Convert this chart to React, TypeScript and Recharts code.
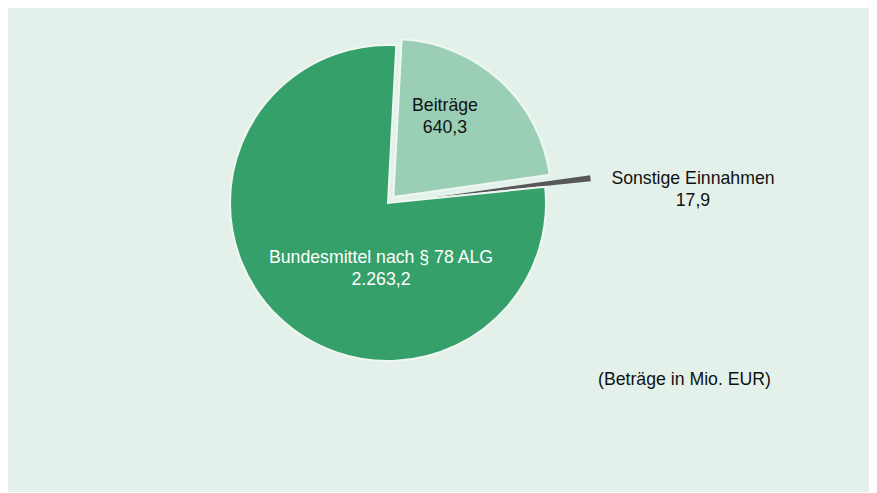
import React from "react";
import { Cell, Pie, PieChart } from "recharts";

const categories = ["Beiträge", "Sonstige Einnahmen", "Bundesmittel nach § 78 ALG"];
const values = [640.3, 17.9, 2263.2];
const valueLabels = ["640,3", "17,9", "2.263,2"];
const note = "(Beträge in Mio. EUR)";

const colors = ["#9acfb5", "#58575a", "#35a06a"];
const textColors = ["#111111", "#111111", "#ffffff"];
const explode = [8, 46, 0];
// label offsets from the pie centre (first line baseline)
const labelOffsets = [
  [57, -92],
  [305, -19],
  [-7, 60],
];

const WIDTH = 869;
const HEIGHT = 484;
const CX = 380;
const CY = 195;
const RADIUS = 158;
const START = 87;
const FONT = "'Liberation Sans', Arial, sans-serif";

const data = categories.map((name, i) => ({ name, value: values[i] }));
const total = values.reduce((a, b) => a + b, 0);

function midAngle(k: number) {
  const before = values.slice(0, k).reduce((a, b) => a + b, 0);
  return START - (360 * (before + values[k] / 2)) / total;
}

function renderLabel(props: any) {
  const { index, cx, cy } = props;
  const [dx, dy] = labelOffsets[index];
  const x = cx + dx;
  const y = cy + dy;
  return (
    <text
      key={`lbl-${index}`}
      x={x}
      y={y}
      textAnchor="middle"
      fill={textColors[index]}
      fontFamily={FONT}
      fontSize={17.7}
    >
      <tspan x={x} y={y}>
        {categories[index]}
      </tspan>
      <tspan x={x} y={y + 21.5}>
        {valueLabels[index]}
      </tspan>
    </text>
  );
}

function slicePie(k: number, withLabels: boolean) {
  const rad = (midAngle(k) * Math.PI) / 180;
  const cx = CX + explode[k] * Math.cos(rad);
  const cy = CY - explode[k] * Math.sin(rad);
  return (
    <Pie
      key={`pie-${k}`}
      data={data}
      dataKey="value"
      nameKey="name"
      cx={cx}
      cy={cy}
      outerRadius={RADIUS}
      startAngle={START}
      endAngle={START - 360}
      isAnimationActive={false}
      labelLine={false}
      label={withLabels ? renderLabel : false}
    >
      {data.map((entry, i) => (
        <Cell
          key={entry.name}
          fill={i === k ? colors[i] : "none"}
          stroke={i === k && i !== 1 ? "#eef7f2" : "none"}
          strokeWidth={2}
        />
      ))}
    </Pie>
  );
}

export default function App() {
  return (
    <div
      style={{
        position: "relative",
        width: WIDTH,
        height: HEIGHT,
        background: "#e4f1ea",
        fontFamily: FONT,
      }}
    >
      <PieChart width={WIDTH} height={HEIGHT} margin={{ top: 0, right: 0, bottom: 0, left: 0 }}>
        {slicePie(0, false)}
        {slicePie(1, false)}
        {slicePie(2, true)}
      </PieChart>
      <div
        style={{
          position: "absolute",
          left: 676.5,
          top: 363,
          transform: "translateX(-50%)",
          whiteSpace: "nowrap",
          fontSize: 17.7,
          lineHeight: 1,
          color: "#111111",
        }}
      >
        {note}
      </div>
    </div>
  );
}
